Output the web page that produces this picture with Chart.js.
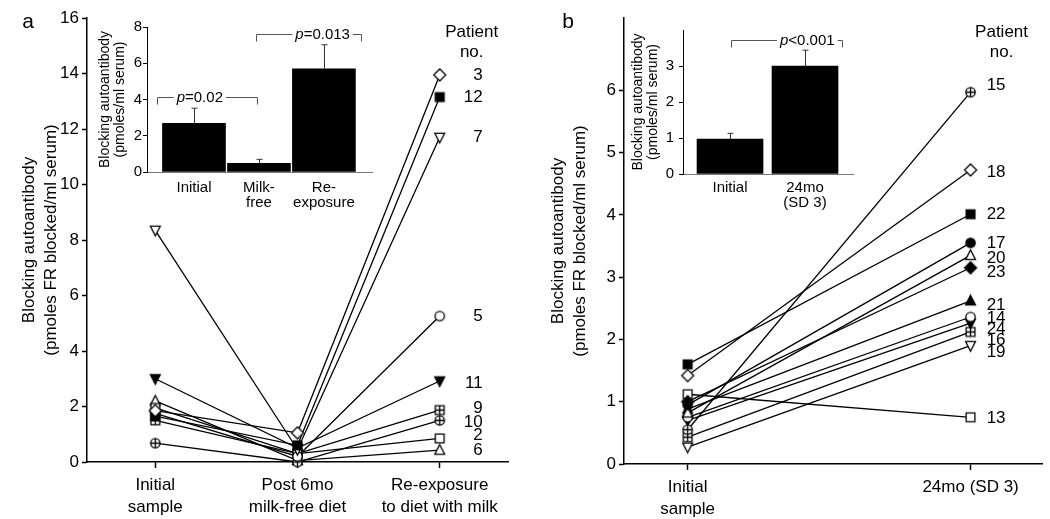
<!DOCTYPE html>
<html>
<head>
<meta charset="utf-8">
<script src="https://cdn.jsdelivr.net/npm/chart.js@4.4.0/dist/chart.umd.min.js"></script>
<style>
  body { margin: 0; background: #fff; }
  #wrap { position: relative; width: 1050px; height: 519px; overflow: hidden; }
  canvas { position: absolute; top: 0; }
</style>
</head>
<body>
<div id="wrap">
  <canvas id="mainA" width="530" height="519" style="left:0"></canvas>
  <canvas id="mainB" width="520" height="519" style="left:530px"></canvas>
  <canvas id="insetA" width="285" height="215" style="left:95px"></canvas>
  <canvas id="insetB" width="240" height="215" style="left:625px"></canvas>
</div>
<script>
// ---- panel a: patients followed through milk-free diet ----
const stageLabelsA = [['Initial', 'sample'], ['Post 6mo', 'milk-free diet'], ['Re-exposure', 'to diet with milk']];
const patientsA = ['3', '12', '7', '5', '11', '9', '10', '2', '6'];
const initialA = [1.85, 1.65, 8.35, 1.75, 3.0, 1.5, 0.68, 1.95, 2.2];
const postA = [1.05, 0.6, 0.45, 0.2, 0.5, 0.3, 0.0, 0.3, 0.05];
const reexpA = [13.95, 13.15, 11.7, 5.26, 2.92, 1.87, 1.5, 0.85, 0.43];
const markersA = ['diamond', 'squareFilled', 'triDown', 'circle', 'triDownFilled', 'squarePlus', 'circlePlus', 'square', 'triUp'];
const labelPosA = [13.95, 13.15, 11.7, 5.26, 2.85, 1.95, 1.44, 0.97, 0.43];
const yTicksA = [0, 2, 4, 6, 8, 10, 12, 14, 16];

// inset a
const insetCatsA = [['Initial'], ['Milk-', 'free'], ['Re-', 'exposure']];
const insetMeansA = [2.69, 0.48, 5.69];
const insetErrA = [0.83, 0.22, 1.33];
const insetTicksA = [0, 2, 4, 6, 8];
const bracketsA = [
  { from: -0.57, to: 0.97, y: 4.14, textAt: 0.09, text: '=0.02' },
  { from: 0.95, to: 2.57, y: 7.62, textAt: 1.98, text: '=0.013' }
];

// ---- panel b: initial vs 24 months ----
const stageLabelsB = [['Initial', 'sample'], ['24mo (SD 3)']];
const patientsB = ['15', '18', '22', '17', '20', '23', '21', '14', '24', '16', '19', '13'];
const initialB = [0.55, 1.42, 1.6, 0.95, 0.82, 1.0, 0.88, 0.75, 0.7, 0.43, 0.27, 1.12];
const month24B = [5.97, 4.72, 4.01, 3.55, 3.35, 3.15, 2.62, 2.36, 2.26, 2.12, 1.9, 0.75];
const markersB = ['circlePlus', 'diamond', 'squareFilled', 'circleFilled', 'triUp', 'diamondFilled', 'triUpFilled', 'circle', 'triDownFilled', 'squarePlus', 'triDown', 'square'];
const labelPosB = [6.08, 4.69, 4.01, 3.55, 3.31, 3.07, 2.55, 2.34, 2.16, 1.99, 1.8, 0.74];
const yTicksB = [0, 1, 2, 3, 4, 5, 6];

// inset b
const insetCatsB = [['Initial'], ['24mo', '(SD 3)']];
const insetMeansB = [0.97, 3.0];
const insetErrB = [0.16, 0.44];
const insetTicksB = [0, 1, 2, 3];
const bracketsB = [
  { from: 0.01, to: 1.49, y: 3.72, textAt: 1.03, text: '<0.001' }
];

const FONT = "'Liberation Sans', Arial, Helvetica, sans-serif";
Chart.defaults.font.family = FONT;
Chart.defaults.color = '#000';

function makeMarker(kind, size) {
  const c = document.createElement('canvas');
  const s = size + 4;
  c.width = s; c.height = s;
  const g = c.getContext('2d');
  const m = s / 2, r = size / 2;
  const filled = kind.endsWith('Filled');
  const plus = kind.endsWith('Plus');
  const base = kind.replace('Filled', '').replace('Plus', '');
  g.lineWidth = 1.3;
  g.strokeStyle = '#000';
  g.fillStyle = filled ? '#000' : '#fff';
  g.beginPath();
  if (base === 'circle') {
    g.arc(m, m, r * 0.85, 0, Math.PI * 2);
  } else if (base === 'square') {
    g.rect(m - r * 0.8, m - r * 0.8, r * 1.6, r * 1.6);
  } else if (base === 'diamond') {
    g.moveTo(m, m - r); g.lineTo(m + r, m); g.lineTo(m, m + r); g.lineTo(m - r, m);
  } else if (base === 'triUp') {
    g.moveTo(m, m - r); g.lineTo(m + r * 0.9, m + r * 0.75); g.lineTo(m - r * 0.9, m + r * 0.75);
  } else if (base === 'triDown') {
    g.moveTo(m, m + r); g.lineTo(m + r * 0.9, m - r * 0.75); g.lineTo(m - r * 0.9, m - r * 0.75);
  }
  g.closePath();
  g.fill();
  g.stroke();
  if (plus) {
    const e = base === 'circle' ? r * 0.85 : r * 0.8;
    g.beginPath();
    g.moveTo(m - e, m); g.lineTo(m + e, m);
    g.moveTo(m, m - e); g.lineTo(m, m + e);
    g.stroke();
  }
  return c;
}

const patientText = {
  id: 'patientText',
  afterDraw(chart, args, opts) {
    const g = chart.ctx;
    const xs = chart.scales.x, ys = chart.scales.y;
    const xp = xs.getPixelForValue(opts.atX);
    g.save();
    g.fillStyle = '#000';
    g.textBaseline = 'middle';
    g.font = '21px ' + FONT;
    g.textAlign = 'center';
    g.fillText(opts.letter, opts.letterX, 22);
    g.font = '17px ' + FONT;
    g.fillText('Patient', xp + opts.headerDx, 32);
    g.fillText('no.', xp + opts.headerDx, 52);
    g.textAlign = 'right';
    opts.names.forEach(function(n, i) {
      g.fillText(n, xp + opts.labelDx, ys.getPixelForValue(opts.pos[i]));
    });
    g.restore();
  }
};

const insetExtras = {
  id: 'insetExtras',
  afterDatasetsDraw(chart, args, opts) {
    const g = chart.ctx;
    const xs = chart.scales.x, ys = chart.scales.y;
    g.save();
    g.strokeStyle = '#333';
    g.lineWidth = 1;
    opts.means.forEach(function(mv, i) {
      const x = Math.round(xs.getPixelForValue(i)) + 0.5;
      const y0 = ys.getPixelForValue(mv);
      const y1 = ys.getPixelForValue(mv + opts.errs[i]);
      g.beginPath();
      g.moveTo(x, y0); g.lineTo(x, y1);
      g.moveTo(x - 3, y1); g.lineTo(x + 3, y1);
      g.stroke();
    });
    opts.brackets.forEach(function(b) {
      const x0 = Math.round(xs.getPixelForValue(b.from)) + 0.5;
      const x1 = Math.round(xs.getPixelForValue(b.to)) + 0.5;
      const y = Math.round(ys.getPixelForValue(b.y)) + 0.5;
      const xt = xs.getPixelForValue(b.textAt);
      g.font = 'italic 15px ' + FONT;
      const wp = g.measureText('p').width;
      g.font = '15px ' + FONT;
      const wr = g.measureText(b.text).width;
      const tl = xt - (wp + wr) / 2;
      g.strokeStyle = '#555';
      g.beginPath();
      g.moveTo(x0, y + 7); g.lineTo(x0, y); g.lineTo(tl - 3, y);
      g.moveTo(tl + wp + wr + 3, y); g.lineTo(x1, y); g.lineTo(x1, y + 7);
      g.stroke();
      g.fillStyle = '#000';
      g.textBaseline = 'middle';
      g.textAlign = 'left';
      g.font = 'italic 15px ' + FONT;
      g.fillText('p', tl, y);
      g.font = '15px ' + FONT;
      g.fillText(b.text, tl + wp, y);
    });
    g.restore();
  }
};

function mainChart(id, o) {
  const datasets = o.names.map(function(p, i) {
    return {
      label: 'Patient ' + p,
      data: o.series.map(function(s, k) { return { x: k, y: s[i] }; }),
      borderColor: '#000',
      borderWidth: 1.3,
      pointStyle: makeMarker(o.markers[i], o.markers[i].startsWith('diamond') ? 12 : 11),
      pointRadius: 6,
      clip: false,
      fill: false
    };
  });
  return new Chart(document.getElementById(id), {
    type: 'line',
    data: { datasets: datasets },
    plugins: [patientText],
    options: {
      responsive: false,
      animation: false,
      layout: { padding: { top: 18, right: o.padRight, left: 0, bottom: 0 } },
      plugins: {
        legend: { display: false },
        tooltip: { enabled: false },
        patientText: {
          names: o.names, pos: o.labelPos, atX: o.series.length - 1,
          labelDx: o.labelDx, headerDx: o.headerDx, letter: o.letter, letterX: o.letterX
        }
      },
      scales: {
        x: {
          type: 'linear', min: o.xMin, max: o.xMax,
          afterBuildTicks: function(s) { s.ticks = o.stageLabels.map(function(_, k) { return { value: k }; }); },
          afterFit: function(s) { s.height = o.xHeight; },
          ticks: {
            callback: function(v) { return o.stageLabels[v]; },
            font: { size: 17, lineHeight: 1.3 }, padding: 6, maxRotation: 0, autoSkip: false
          },
          grid: { drawOnChartArea: false, tickLength: 6, color: '#000', tickWidth: 1.5 },
          border: { color: '#000', width: 1.5 }
        },
        y: {
          min: 0, max: o.yMax,
          afterBuildTicks: function(s) { s.ticks = o.yTicks.map(function(v) { return { value: v }; }); },
          afterFit: function(s) { s.width = o.yWidth; },
          ticks: { font: { size: 17 }, padding: 3 },
          grid: { drawOnChartArea: false, tickLength: 5, color: '#000', tickWidth: 1.5 },
          border: { color: '#000', width: 1.5 },
          title: {
            display: true,
            text: ['Blocking autoantibody', '(pmoles FR blocked/ml serum)'],
            font: { size: 17, lineHeight: 1.3 },
            padding: { top: o.titlePad, bottom: 0 }
          }
        }
      }
    }
  });
}

function insetChart(id, o) {
  return new Chart(document.getElementById(id), {
    type: 'bar',
    data: {
      datasets: [{
        data: o.means.map(function(v, i) { return { x: i, y: v }; }),
        backgroundColor: '#000',
        barThickness: o.barWidth
      }]
    },
    plugins: [insetExtras],
    options: {
      responsive: false,
      animation: false,
      layout: { padding: { top: o.padTop, right: o.padRight, left: 0, bottom: 0 } },
      plugins: {
        legend: { display: false },
        tooltip: { enabled: false },
        insetExtras: { means: o.means, errs: o.errs, brackets: o.brackets }
      },
      scales: {
        x: {
          type: 'linear', min: o.xMin, max: o.xMax, offset: false,
          afterBuildTicks: function(s) { s.ticks = o.cats.map(function(_, k) { return { value: k }; }); },
          afterFit: function(s) { s.height = o.xHeight; },
          ticks: {
            callback: function(v) { return o.cats[v]; },
            font: { size: 15, lineHeight: 1.0 }, padding: o.xPad, maxRotation: 0, autoSkip: false
          },
          grid: { display: false, drawTicks: false, offset: false },
          border: { color: '#777', width: 1, dash: [1, 2] }
        },
        y: {
          min: 0, max: o.yMax,
          afterBuildTicks: function(s) { s.ticks = o.yTicks.map(function(v) { return { value: v }; }); },
          afterFit: function(s) { s.width = o.yWidth; },
          ticks: { font: { size: 15 }, padding: o.yPad },
          grid: { drawOnChartArea: false, tickLength: 4, color: '#000' },
          border: { color: '#000', width: 1 },
          title: {
            display: true,
            text: ['Blocking autoantibody', '(pmoles/ml serum)'],
            font: { size: 14, lineHeight: 1.05 },
            padding: { top: o.titlePad, bottom: 0 }
          }
        }
      }
    }
  });
}

mainChart('mainA', {
  names: patientsA, series: [initialA, postA, reexpA], markers: markersA, labelPos: labelPosA,
  stageLabels: stageLabelsA, yTicks: yTicksA, yMax: 16, xMin: -0.48, xMax: 2.48,
  padRight: 22, xHeight: 57, yWidth: 87, titlePad: 18,
  labelDx: 43, headerDx: 32, letter: 'a', letterX: 28
});

mainChart('mainB', {
  names: patientsB, series: [initialB, month24B], markers: markersB, labelPos: labelPosB,
  stageLabels: stageLabelsB, yTicks: yTicksB, yMax: 7.16, xMin: -0.225, xMax: 1.255,
  padRight: 5, xHeight: 55, yWidth: 94, titlePad: 17,
  labelDx: 35, headerDx: 31, letter: 'b', letterX: 38
});

insetChart('insetA', {
  cats: insetCatsA, means: insetMeansA, errs: insetErrA, brackets: bracketsA,
  yTicks: insetTicksA, yMax: 8, xMin: -0.723, xMax: 2.74, barWidth: 63,
  padTop: 27, padRight: 8, xHeight: 43, yWidth: 52, titlePad: 2.6, xPad: 8, yPad: 1
});

insetChart('insetB', {
  cats: insetCatsB, means: insetMeansB, errs: insetErrB, brackets: bracketsB,
  yTicks: insetTicksB, yMax: 4, xMin: -0.627, xMax: 1.64, barWidth: 66,
  padTop: 30, padRight: 12, xHeight: 41, yWidth: 58, titlePad: 5.6, xPad: 6, yPad: 5
});
</script>
</body>
</html>
